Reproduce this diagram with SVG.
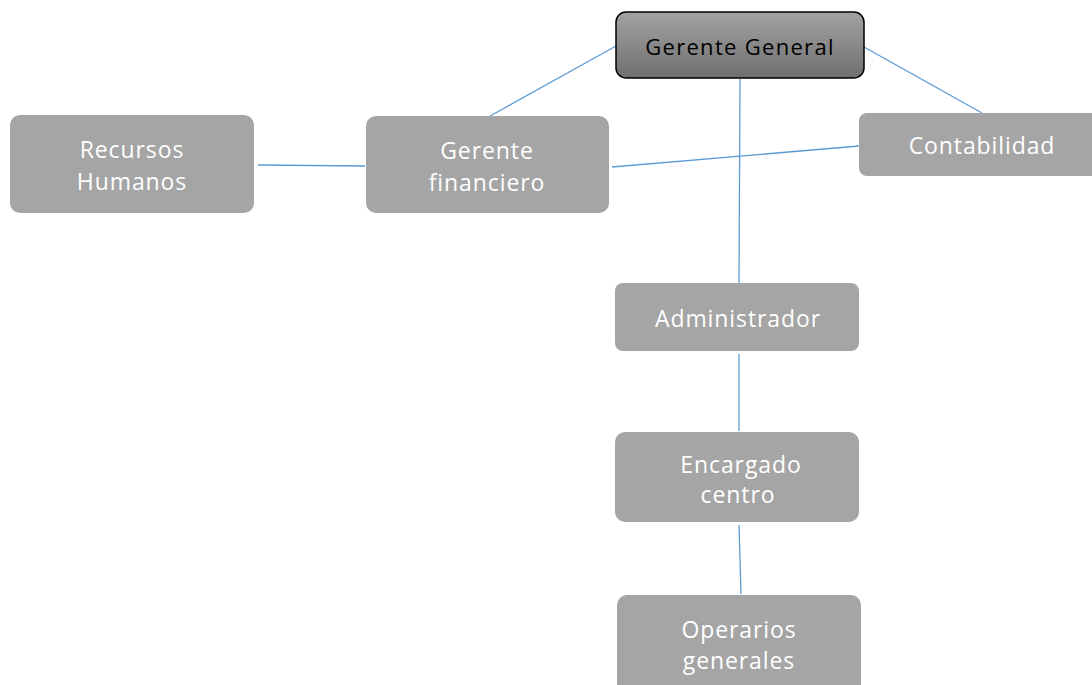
<svg xmlns="http://www.w3.org/2000/svg" width="1092" height="685" viewBox="0 0 1092 685">
<defs>
<linearGradient id="g" x1="0" y1="0" x2="0" y2="1">
<stop offset="0" stop-color="#a3a3a3"/>
<stop offset="1" stop-color="#6f6f6f"/>
</linearGradient>
<style>
.n{fill:#a5a5a5;}
.t{font-family:"Open Sans","Liberation Sans",sans-serif;font-size:23px;fill:#ffffff;text-anchor:middle;letter-spacing:0.9px;}
.c{stroke:#5b9bd5;stroke-width:1.3;fill:none;}
</style>
</defs>
<rect width="1092" height="685" fill="#ffffff"/>
<g id="connectors">
<line class="c" x1="616" y1="46" x2="490" y2="116"/>
<line class="c" x1="864" y1="47" x2="982" y2="113"/>
<line class="c" x1="740" y1="79" x2="739" y2="283"/>
<line class="c" x1="258" y1="165" x2="365" y2="166"/>
<line class="c" x1="612" y1="167" x2="859" y2="146"/>
<line class="c" x1="739" y1="354" x2="739" y2="431"/>
<line class="c" x1="739" y1="525" x2="741" y2="594"/>
</g>
<g id="gerente-general">
<rect x="616" y="12" width="248" height="66" rx="10" fill="url(#g)" stroke="#000" stroke-width="1.5"/>
<text class="t" x="740" y="55" style="fill:#000;font-size:22px;letter-spacing:1.3px">Gerente General</text>
</g>
<g id="recursos-humanos">
<rect class="n" x="10" y="115" width="244" height="98" rx="10"/>
<text class="t" x="132" y="158">Recursos</text>
<text class="t" x="132" y="190">Humanos</text>
</g>
<g id="gerente-financiero">
<rect class="n" x="366" y="116" width="243" height="97" rx="10"/>
<text class="t" x="487" y="159">Gerente</text>
<text class="t" x="487" y="191">financiero</text>
</g>
<g id="contabilidad">
<rect class="n" x="859" y="113" width="243" height="63" rx="8"/>
<text class="t" x="982" y="154">Contabilidad</text>
</g>
<g id="administrador">
<rect class="n" x="615" y="283" width="244" height="68" rx="8"/>
<text class="t" x="738" y="327">Administrador</text>
</g>
<g id="encargado-centro">
<rect class="n" x="615" y="432" width="244" height="90" rx="10"/>
<text class="t" x="741" y="473">Encargado</text>
<text class="t" x="738" y="503">centro</text>
</g>
<g id="operarios-generales">
<rect class="n" x="617" y="595" width="244" height="100" rx="10"/>
<text class="t" x="739" y="638">Operarios</text>
<text class="t" x="739" y="669">generales</text>
</g>
</svg>
